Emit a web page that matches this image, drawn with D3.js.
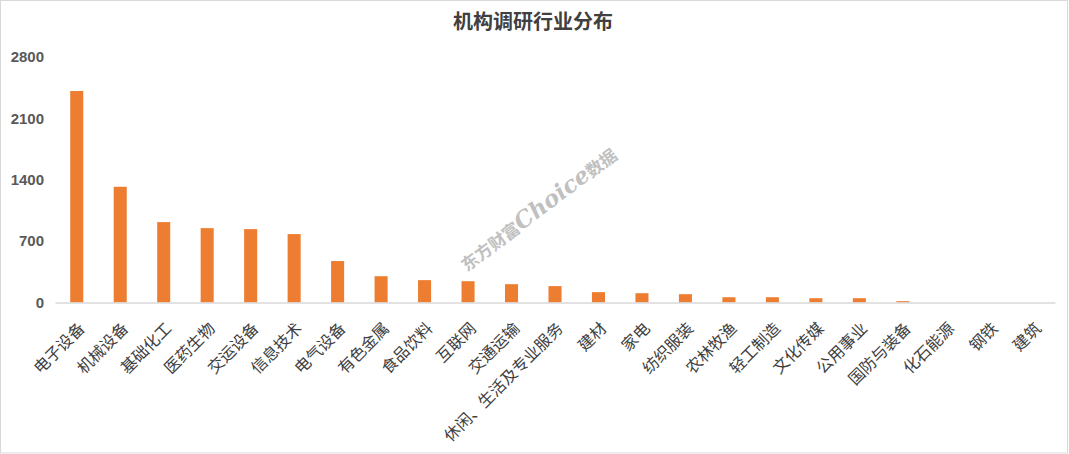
<!DOCTYPE html>
<html>
<head>
<meta charset="utf-8">
<script src="https://cdn.jsdelivr.net/npm/d3@7"></script>
<style>
  body { margin: 0; background: #fff; }
  text { font-family: "Noto Sans CJK SC", "DejaVu Sans", sans-serif; }
</style>
</head>
<body>
<script>
var categories = ["电子设备", "机械设备", "基础化工", "医药生物", "交运设备", "信息技术", "电气设备",
    "有色金属", "食品饮料", "互联网", "交通运输", "休闲、生活及专业服务", "建材", "家电", "纺织服装",
    "农林牧渔", "轻工制造", "文化传媒", "公用事业", "国防与装备", "化石能源", "钢铁", "建筑"];
var counts = [2412, 1320, 917, 848, 837, 780, 473, 300, 255, 243, 209, 187, 118, 106, 95,
    60, 60, 49, 49, 15, 0, 0, 0];
var yTicks = [0, 700, 1400, 2100, 2800];

var width = 1069;
var height = 454;
var plotLeft = 55, plotRight = 1055, plotTop = 57, plotBottom = 302.5;

var svg = d3.select("body").append("svg").attr("width", width).attr("height", height);

// frame
svg.append("rect")
    .attr("x", 0.5).attr("y", 0.5)
    .attr("width", 1067).attr("height", 452.5)
    .attr("fill", "#fff")
    .attr("stroke", "#d9d9d9");

svg.append("text")
    .attr("x", 533).attr("y", 29)
    .attr("text-anchor", "middle")
    .style("font-size", "20px")
    .style("font-weight", "bold")
    .style("fill", "#404040")
    .text("机构调研行业分布");

var xScale = d3.scaleBand()
    .domain(categories)
    .range([plotLeft, plotRight])
    .paddingInner(0.7)
    .paddingOuter(0.35);

var yScale = d3.scaleLinear()
    .domain([0, 2800])
    .range([plotBottom, plotTop]);

// y axis labels only
var yAxis = svg.append("g")
    .attr("transform", "translate(" + 44 + ",0)")
    .call(d3.axisLeft(yScale).tickValues(yTicks).tickFormat(d3.format("d")).tickSize(0).tickPadding(0));
yAxis.select(".domain").remove();
yAxis.selectAll("text")
    .style("font-size", "15px")
    .style("font-weight", "bold")
    .style("fill", "#595959")
    .style("font-family", "'Liberation Sans', Arial, sans-serif");

// watermark
var wm = svg.append("text")
    .attr("transform", "translate(467,272) rotate(-37)")
    .style("fill", "#a6a6a6")
    .style("opacity", 0.7);
wm.append("tspan").style("font-size", "17px").style("font-weight", "bold").text("东方财富");
wm.append("tspan").style("font-size", "23px").style("font-weight", "bold").style("font-style", "italic")
    .style("font-family", "'DejaVu Serif', serif").text("Choice");
wm.append("tspan").style("font-size", "17px").style("font-weight", "bold").text("数据");

svg.append("g")
    .selectAll("rect")
    .data(counts)
    .enter()
    .append("rect")
    .attr("x", function(d, i) { return xScale(categories[i]); })
    .attr("y", function(d) { return yScale(d); })
    .attr("width", xScale.bandwidth())
    .attr("height", function(d) { return plotBottom - yScale(d); })
    .attr("fill", "#ed7d31");

// x axis
var xAxis = svg.append("g")
    .attr("transform", "translate(0," + plotBottom + ")")
    .call(d3.axisBottom(xScale).tickSize(0).tickPadding(0));
xAxis.select(".domain")
    .attr("stroke", "#d9d9d9")
    .attr("stroke-width", 1.5);
xAxis.selectAll("text")
    .attr("text-anchor", "end")
    .attr("dy", 0)
    .attr("transform", "translate(9,27) rotate(-45)")
    .style("font-size", "16px")
    .style("fill", "#404040");
</script>
</body>
</html>
